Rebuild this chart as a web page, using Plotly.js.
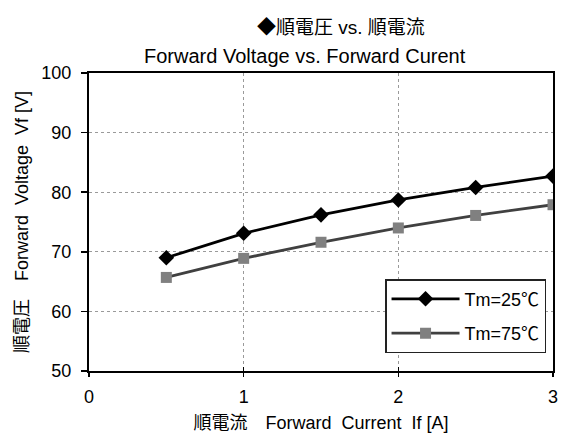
<!DOCTYPE html>
<html>
<head>
<meta charset="utf-8">
<script src="https://cdn.plot.ly/plotly-3.0.1.min.js"></script>
<style>
html,body{margin:0;padding:0;background:#fff;}
#chart{width:561px;height:433px;}
</style>
</head>
<body>
<div id="chart"></div>
<script>
var current = [0.5, 1, 1.5, 2, 2.5, 3];
var vf25 = [69.0, 73.1, 76.2, 78.7, 80.8, 82.7];
var vf75 = [65.7, 68.9, 71.6, 74.0, 76.1, 77.9];
var seriesNames = ['Tm=25℃', 'Tm=75℃'];
var xTicks = [0, 1, 2, 3];
var yTicks = [50, 60, 70, 80, 90, 100];

var FONT = '"Liberation Sans", Arial, "Noto Sans CJK JP", sans-serif';

var traces = [
  {x: current, y: vf25, name: seriesNames[0], legendgroup: 'a', type: 'scatter', mode: 'lines+markers',
   line: {color: '#000000', width: 2.8},
   marker: {symbol: 'diamond', size: 12, color: '#000000'}},
  {x: current, y: vf75, name: seriesNames[1], legendgroup: 'b', type: 'scatter', mode: 'lines+markers',
   line: {color: '#404040', width: 2.8},
   marker: {symbol: 'square', size: 11, color: '#808080'}},
  {x: xTicks, y: xTicks.map(function(){return 50;}), xaxis: 'x2', yaxis: 'y', type: 'scatter',
   mode: 'markers', marker: {opacity: 0}, showlegend: false, hoverinfo: 'skip'}
];

var layout = {
  width: 561, height: 433,
  margin: {l: 89, r: 8, t: 73, b: 62},
  paper_bgcolor: '#ffffff', plot_bgcolor: '#ffffff',
  font: {family: FONT, color: '#000000', size: 18},
  showlegend: true,
  legend: {x: 0.985, y: 0.06, xanchor: 'right', yanchor: 'bottom',
           bgcolor: '#ffffff', bordercolor: '#222222', borderwidth: 1.5,
           font: {size: 18, family: FONT}, traceorder: 'grouped', tracegroupgap: 8,
           itemwidth: 68},
  title: {text: '◆順電圧 vs. 順電流', x: 0.543, xanchor: 'center', xref: 'paper',
          y: 1 - 27/433, yanchor: 'middle', yref: 'container',
          font: {size: 19, family: FONT, color: '#000000'}},
  xaxis: {range: [0, 3], tickvals: xTicks, ticktext: xTicks.map(String),
          showgrid: true, gridcolor: '#9a9a9a', griddash: '3px,3px', gridwidth: 1,
          showline: true, linecolor: '#000000', linewidth: 2, mirror: true,
          ticks: 'outside', ticklen: 4, tickcolor: '#000000', tickwidth: 1.5,
          zeroline: false, tickfont: {size: 18}, ticklabelstandoff: 4,
          title: {text: '順電流　Forward  Current  If [A]', font: {size: 18}, standoff: 11}},
  xaxis2: {range: [0, 3], overlaying: 'x', side: 'bottom', anchor: 'y', tickvals: xTicks,
           showticklabels: false, showgrid: false, showline: false, zeroline: false,
           ticks: 'inside', ticklen: 4, tickcolor: '#000000', tickwidth: 1.5},
  yaxis: {range: [50, 100], tickvals: yTicks, ticktext: yTicks.map(String),
          showgrid: true, gridcolor: '#9a9a9a', griddash: '3px,3px', gridwidth: 1,
          showline: true, linecolor: '#000000', linewidth: 2, mirror: true,
          ticks: 'outside', ticklen: 6, tickcolor: '#000000', tickwidth: 1.5,
          zeroline: false, tickfont: {size: 18}, ticklabelstandoff: 6,
          title: {text: '順電圧　Forward  Voltage  Vf [V]', font: {size: 18}, standoff: 8}},
  annotations: [
    {text: 'Forward Voltage vs. Forward Curent', xref: 'paper', yref: 'paper', x: 0.466, y: 1.0,
     xanchor: 'center', yanchor: 'middle', yshift: 17, showarrow: false,
     font: {size: 20, family: FONT}}
  ]
};

Plotly.newPlot('chart', traces, layout, {displayModeBar: false, staticPlot: true});
</script>
</body>
</html>
